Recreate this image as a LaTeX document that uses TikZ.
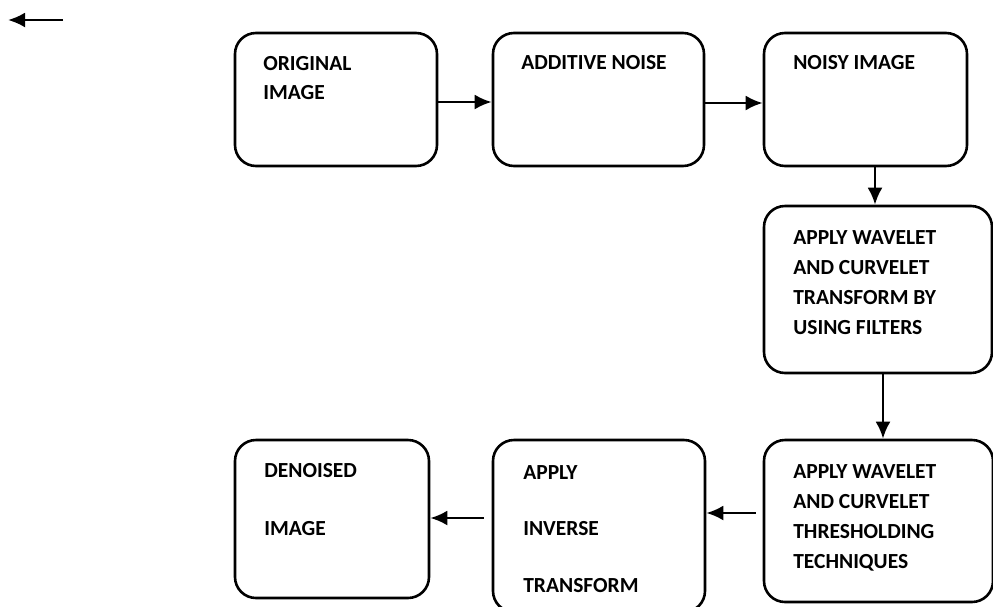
\documentclass[tikz,border=0pt]{standalone}
\usepackage{fontspec}
\setmainfont{Carlito}
\usetikzlibrary{arrows.meta}

\tikzset{
	stage/.style = {draw, rounded corners = 21pt, inner sep = 0pt},
	boxtext/.style = {anchor = base west, align = left, inner sep = 0pt, font = \fontsize{21.5}{29}\selectfont\bfseries}
}

\begin{document}
\begin{tikzpicture}[x = 1pt, y = -1pt, > = {Latex[length = 17pt, width = 15pt]}, line width = 2.6pt]

	\useasboundingbox (0, 0) rectangle (993, 606);

	% Processing stages

	\node [stage, minimum width = 202pt, minimum height = 133pt] (original) at (336, 99.5) {};
	\node [stage, minimum width = 211pt, minimum height = 133pt] (noise) at (598.5, 99.5) {};
	\node [stage, minimum width = 203pt, minimum height = 133pt] (noisy) at (865.5, 99.5) {};
	\node [stage, minimum width = 228pt, minimum height = 167pt] (transform) at (878, 289.5) {};
	\node [stage, minimum width = 229pt, minimum height = 162pt] (threshold) at (878.5, 521) {};
	\node [stage, minimum width = 212pt, minimum height = 172pt] (inverse) at (599, 526) {};
	\node [stage, minimum width = 194pt, minimum height = 158pt] (denoised) at (332, 519) {};

	% Stage labels (placed by the baseline of their last line)

	\node [boxtext] (original-text) at (262, 99) {ORIGINAL\\IMAGE};
	\node [boxtext] (noise-text) at (520, 69) {ADDITIVE NOISE};
	\node [boxtext] (noisy-text) at (792, 69) {NOISY IMAGE};
	\node [boxtext] (transform-text) at (792, 334) {APPLY WAVELET\\[1pt]AND CURVELET\\[1pt]TRANSFORM BY\\[1pt]USING FILTERS};
	\node [boxtext] (threshold-text) at (792, 568) {APPLY WAVELET\\[0.7pt]AND CURVELET\\[0.7pt]THRESHOLDING\\[0.7pt]TECHNIQUES};
	\node [boxtext] (inverse-text) at (522, 592) {APPLY\\[27.5pt]INVERSE\\[27.5pt]TRANSFORM};
	\node [boxtext] (denoised-text) at (263, 535) {DENOISED\\[29pt]IMAGE};

	% Flow between stages

	\draw [->] ([yshift = -2.5pt] original.east) -- ([yshift = -2.5pt] noise.west);
	\draw [->] ([yshift = -3.5pt] noise.east) -- ([yshift = -3.5pt] noisy.west);
	\draw [->] ([xshift = 9.5pt] noisy.south) -- ([xshift = 9.5pt] noisy.south |- transform.north);
	\draw [->] ([xshift = 5pt] transform.south) -- ([xshift = 5pt] transform.south |- threshold.north);
	\draw [->, shorten < = 7pt] ([yshift = 8pt] threshold.west) -- ([yshift = 8pt] threshold.west -| inverse.east);
	\draw [->, shorten < = 8pt] ([yshift = 8pt] inverse.west) -- ([yshift = 8pt] inverse.west -| denoised.east);

	% Stray arrow in the corner

	\coordinate (stray start) at (63, 20);
	\coordinate (stray end) at (8, 20);
	\draw [->] (stray start) -- (stray end);

\end{tikzpicture}
\end{document}
